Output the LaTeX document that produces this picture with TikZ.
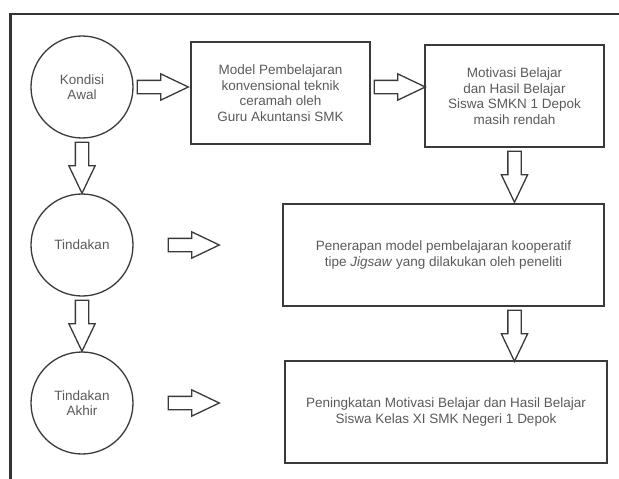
\documentclass[tikz,border=0pt]{standalone}
\usepackage{fontspec}
\setmainfont{Liberation Sans}
\usepackage{tikz}
\usetikzlibrary{shapes.arrows,calc}
\definecolor{garis}{HTML}{3A3A3A}
\definecolor{teks}{HTML}{5A5A5A}
\definecolor{bingkai}{HTML}{333333}

\begin{document}
\begin{tikzpicture}[every node/.style={draw=garis,line width=1.3pt,text=teks,align=center,font=\fontsize{13.5pt}{15.5pt}\selectfont},
	lingkaran/.style={circle,minimum size=102pt,inner sep=0pt},
	kotak/.style={rectangle,minimum height=102pt},
	panah/.style={single arrow,fill=white,minimum height=51pt,minimum width=25pt,inner sep=6pt,single arrow head extend=6.5pt,single arrow tip angle=51,anchor=tail}]
	\useasboundingbox (0,0) rectangle (619pt,-479pt);
	\draw[bingkai,line width=2.2pt] (619pt,-14pt) -- (10.5pt,-14pt) -- (10.5pt,-479pt);

	\node[lingkaran] (kondisi) at (82pt,-87pt) {Kondisi\\Awal};
	\node[lingkaran,node distance=158pt,below of=kondisi] (tindakan) {Tindakan};
	\node[lingkaran,node distance=158pt,below of=tindakan] (akhir) {Tindakan\\Akhir};

	\node[kotak,minimum width=179pt,node distance=198.5pt,right of=kondisi,yshift=-6pt] (model) {Model Pembelajaran\\konvensional teknik\\ceramah oleh\\Guru Akuntansi SMK};
	\node[kotak,minimum width=179pt,node distance=234pt,right of=model,yshift=-3pt] (motivasi) {Motivasi Belajar\\dan Hasil Belajar\\Siswa SMKN 1 Depok\\masih rendah};
	\node[kotak,minimum width=321pt,node distance=361.5pt,right of=tindakan,yshift=-10pt] (penerapan) {Penerapan model pembelajaran kooperatif\\tipe \textit{Jigsaw} yang dilakukan oleh peneliti};
	\node[kotak,minimum width=322pt,node distance=364pt,right of=akhir,yshift=-9pt] (peningkatan) {Peningkatan Motivasi Belajar dan Hasil Belajar\\Siswa Kelas XI SMK Negeri 1 Depok};

	\node[panah] (p1) at ([xshift=3pt]kondisi.east) {};
	\node[panah] (p2) at ([xshift=3pt]model.east |- p1.tail) {};
	\node[panah,shape border rotate=270] (p3) at ([yshift=-3pt]motivasi.south) {};
	\node[panah,shape border rotate=270] (p4) at ([yshift=-3pt]kondisi.south) {};
	\node[panah] (p5) at ([xshift=34pt]tindakan.east) {};
	\node[panah,shape border rotate=270] (p6) at ([yshift=-3pt]penerapan.south -| p3.tail) {};
	\node[panah,shape border rotate=270] (p7) at ([yshift=-3pt]tindakan.south) {};
	\node[panah] (p8) at ([xshift=34pt]akhir.east) {};
\end{tikzpicture}
\end{document}
